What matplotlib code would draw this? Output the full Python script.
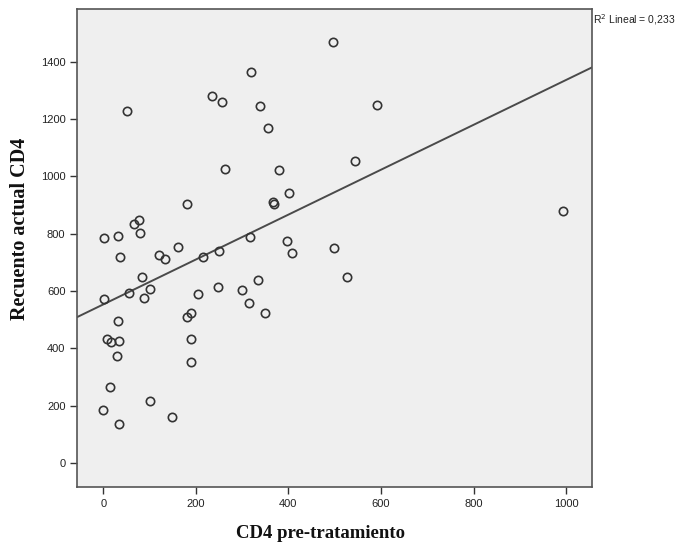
import matplotlib
matplotlib.use("Agg")
import matplotlib.pyplot as plt
import numpy as np

# CD4 values
cd4_pre = [319, 234, 256, 51, 339, 355, 264, 182, 77, 66,
           79, 2, 31, 318, 162, 36, 120, 133, 216, 250,
           84, 55, 2, 102, 88, 205, 248, 300, 335, 315,
           350, 180, 189, 32, 9, 17, 35, 190, 30, 190,
           15, 0, 102, 148, 35, 497, 591, 544, 380, 401,
           367, 368, 397, 499, 407, 527, 994]
cd4_actual = [1364, 1281, 1260, 1228, 1246, 1170, 1027, 905, 848, 834,
              804, 786, 792, 788, 755, 718, 726, 711, 718, 738,
              648, 594, 572, 606, 574, 588, 613, 602, 639, 560,
              524, 510, 525, 496, 433, 424, 427, 434, 375, 354,
              266, 186, 216, 162, 136, 1467, 1250, 1052, 1022, 940,
              910, 903, 776, 751, 731, 648, 880]

x_ticks = [0, 200, 400, 600, 800, 1000]
y_ticks = [0, 200, 400, 600, 800, 1000, 1200, 1400]
r2_text = "R$^2$ Lineal = 0,233"

x = np.array(cd4_pre, dtype=float)
y = np.array(cd4_actual, dtype=float)
slope, intercept = np.polyfit(x, y, 1)

fig = plt.figure(figsize=(6.81, 5.51), dpi=100)
ax = fig.add_axes([0.1135, 0.1167, 0.7554, 0.8664])
ax.set_facecolor("#efefef")

xlim = (-56, 1055)
ax.plot(xlim, [intercept + slope * v for v in xlim], color="#4a4a4a", lw=1.4, zorder=2)
ax.plot(x, y, linestyle="none", marker="o", markersize=6, markerfacecolor="none",
        markeredgecolor="#333333", markeredgewidth=1.2, zorder=3)

ax.set_xlim(*xlim)
ax.set_ylim(-82, 1582)
ax.set_xticks(x_ticks)
ax.set_yticks(y_ticks)
ax.tick_params(direction="out", length=5, width=1, color="#333333",
               labelsize=8, labelcolor="#222222")
for lbl in ax.get_xticklabels() + ax.get_yticklabels():
    lbl.set_family("Liberation Sans")
for s in ax.spines.values():
    s.set_color("#555555")
    s.set_linewidth(1.2)

fig.text(20 / 681, 1 - 229 / 551, "Recuento actual CD4", rotation=90, ha="center", va="center",
         family="Liberation Serif", fontweight="bold", fontsize=14.5, color="#111111")
fig.text(321 / 681, 1 - 533 / 551, "CD4 pre-tratamiento", ha="center", va="center",
         family="Liberation Serif", fontweight="bold", fontsize=13.5, color="#111111")
fig.text(593 / 681, 1 - 20 / 551, r2_text, ha="left", va="center",
         family="Liberation Sans", fontsize=7.5, color="#222222")

fig.savefig("out.png", dpi=100)
